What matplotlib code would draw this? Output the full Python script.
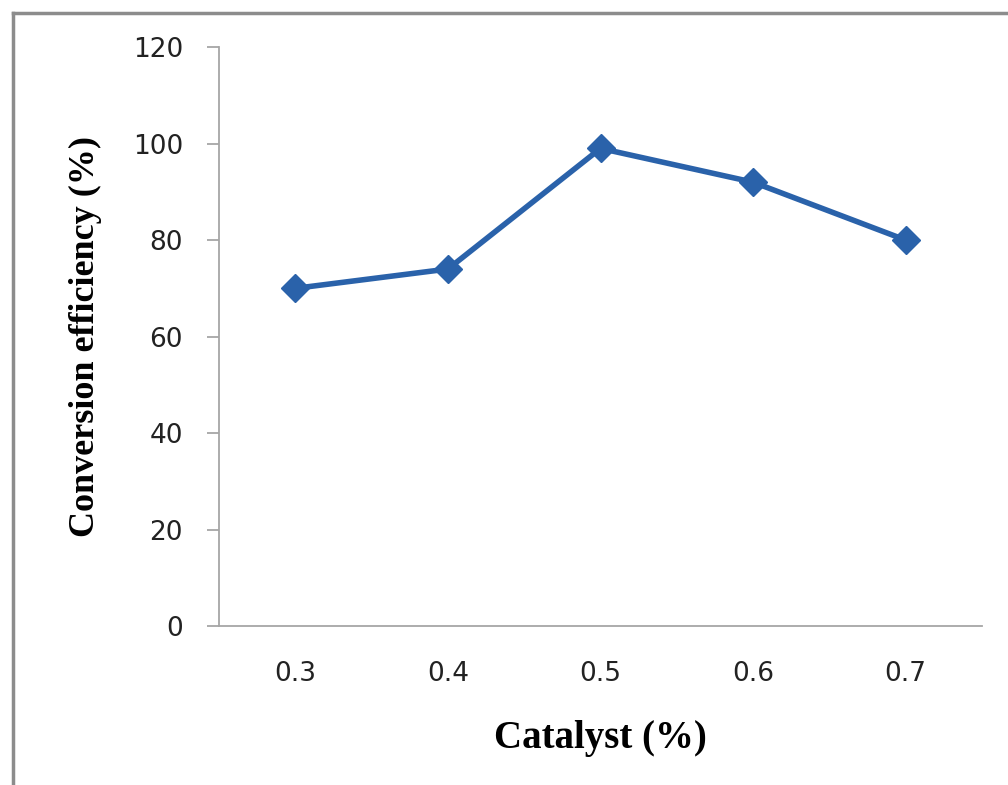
import matplotlib.pyplot as plt
from matplotlib.lines import Line2D

# catalyst loading vs conversion efficiency
catalyst = ['0.3', '0.4', '0.5', '0.6', '0.7']
efficiency = [70, 74, 99, 92, 80]
y_ticks = [0, 20, 40, 60, 80, 100, 120]

fig = plt.figure(figsize=(10.08, 7.85), dpi=100)
ax = fig.add_axes([0.2173, 0.2025, 0.7569, 0.7375])

xs = list(range(len(catalyst)))
ax.plot(xs, efficiency, color='#2A62AA', lw=4, marker='D', ms=14,
        solid_joinstyle='round')

ax.set_xlim(-0.5, len(catalyst) - 0.5)
ax.set_ylim(0, 120)
ax.set_xticks(xs)
ax.set_xticklabels(catalyst)
ax.set_yticks(y_ticks)

for s in ['top', 'right']:
    ax.spines[s].set_visible(False)
for s in ['left', 'bottom']:
    ax.spines[s].set_color('#A6A6A6')
    ax.spines[s].set_linewidth(1.3)

ax.tick_params(axis='y', direction='out', length=9, width=1.3, color='#A6A6A6',
               labelsize=19, pad=17, labelcolor='#222222')
ax.tick_params(axis='x', length=0, labelsize=19, pad=25, labelcolor='#222222')

ax.set_xlabel('Catalyst (%)', family='Liberation Serif', weight='bold',
              fontsize=28, labelpad=24)
ax.set_ylabel('Conversion efficiency (%)', family='Liberation Serif',
              weight='bold', fontsize=26, labelpad=22)

# grey frame on the top and left edges of the picture
fig.add_artist(Line2D([0.0125, 0.0125], [0, 0.984], transform=fig.transFigure,
                      color='#8C8C8C', lw=2.5))
fig.add_artist(Line2D([0.0125, 1], [0.984, 0.984], transform=fig.transFigure,
                      color='#8C8C8C', lw=2.5))

fig.savefig('out.png', dpi=100)
